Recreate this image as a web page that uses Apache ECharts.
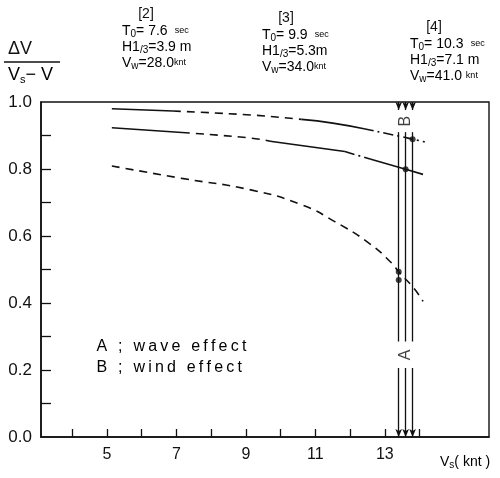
<!DOCTYPE html>
<html><head><meta charset="utf-8">
<script src="https://cdn.jsdelivr.net/npm/echarts@6/dist/echarts.min.js"></script>
<style>html,body{margin:0;padding:0;background:#fff}#c{width:500px;height:478px}</style>
</head><body><div id="c"></div>
<script>
// ---- axis ticks / labels ----
const xTickValues = [4, 5, 6, 7, 8, 9, 10, 11, 12, 13, 14];
const xLabelValues = [5, 7, 9, 11, 13];
const yTickValues = [0.1, 0.2, 0.3, 0.4, 0.5, 0.6, 0.7, 0.8, 0.9];
const yLabelValues = [0.0, 0.2, 0.4, 0.6, 0.8, 1.0];

// ---- curve [4] (segments by line style) ----
const c4Solid1 = [[5.14, 0.980], [6.9, 0.973]];
const c4Dash1 = [[6.9, 0.973], [9.17, 0.961], [10.6, 0.948]];
const c4Solid2 = [[10.6, 0.948], [11.5, 0.937], [12.4, 0.920]];
const c4DashDot = [[12.4, 0.920], [13.5, 0.896], [13.8, 0.889], [14.15, 0.881]];

// ---- curve [3] ----
const c3Solid1 = [[5.14, 0.923], [7.16, 0.909]];
const c3Dash1 = [[7.16, 0.909], [9.17, 0.892], [9.75, 0.882]];
const c3Solid2 = [[9.75, 0.882], [11.85, 0.852]];
const c3DashDot = [[11.85, 0.852], [12.6, 0.829]];
const c3Solid3 = [[12.6, 0.829], [13.6, 0.799], [14.1, 0.784]];

// ---- curve [2] ----
const c2Dash = [[5.14, 0.809], [7.16, 0.772], [9.17, 0.737], [10.61, 0.693], [11.56, 0.643], [12.54, 0.579], [13.2, 0.519], [13.4, 0.493], [13.83, 0.445], [14.1, 0.405]];

// ---- marked points on the Vs lines ----
const markPts = [[13.4, 0.493], [13.4, 0.469], [13.6, 0.799], [13.8, 0.889]];

// ---- Vs lines of each condition ----
const vsLines = [13.4, 13.6, 13.8];
const vTop = 1.0, vTopArrow = 0.976, vMidTop = 0.91, vMidBottom = 0.285, vLowTop = 0.206, vBottom = 0.0;

const curveNames = ['[4]', '[3]', '[2]'];
const effectTexts = ['A ; wave effect', 'B ; wind effect'];

const FONT = 'Liberation Sans, Arial, sans-serif';
const INK = '#111';

function seg(data, type, label) {
  return {
    type: 'line', data: data.map((p, i) => (i === 0 && label) ? {
      value: p, label: { show: true, position: 'left', distance: 9, formatter: label, color: INK, fontSize: 14, fontFamily: FONT }
    } : p),
    showSymbol: false, symbol: 'none', smooth: true, silent: true,
    lineStyle: { color: INK, width: 1.6, type: type }, z: 3
  };
}
function vLineSeries(y1, y2, sym) {
  return {
    type: 'line', data: [], silent: true,
    markLine: {
      silent: true, animation: false,
      symbol: sym, symbolSize: [5, 8],
      label: { show: false },
      lineStyle: { color: INK, width: 1.3, type: 'solid' },
      emphasis: { disabled: true },
      data: vsLines.map(v => [{ coord: [v, y1] }, { coord: [v, y2] }])
    }
  };
}
// wide-tracked text: each character as its own rich token with side padding
function tracked(str) {
  return str.split('').map(ch => '{c|' + (ch === ' ' ? '\u00a0' : ch) + '}').join('');
}

const DASH = [8, 6];
const DASHDOT = [10, 4, 2, 4];

const hdrRich = {
  n: { fontSize: 14, fontFamily: FONT, color: INK },
  s: { fontSize: 10, fontFamily: FONT, color: INK, verticalAlign: 'bottom', padding: [6, 0, 0, 0] },
  u: { fontSize: 9, fontFamily: FONT, color: INK }
};
function hdr(x, y, id, t, h, w) {
  return [
    { type: 'text', x: x + 24, y: y, style: { text: id, font: '14px ' + FONT, fill: INK, align: 'center' } },
    { type: 'text', x: x, y: y + 16, style: { text: '{n|T}{s|0}{n|= ' + t + ' } {u|sec}', rich: hdrRich } },
    { type: 'text', x: x, y: y + 32, style: { text: '{n|H1}{s|/3}{n|=' + h + '}', rich: hdrRich } },
    { type: 'text', x: x, y: y + 48, style: { text: '{n|V}{s|w}{n|=' + w + '}{u|knt}', rich: hdrRich } }
  ];
}
const trackRich = { c: { fontSize: 16, fontFamily: FONT, color: INK, padding: [0, 1.6, 0, 1.6] } };

const chart = echarts.init(document.getElementById('c'), null, { renderer: 'canvas' });
chart.setOption({
  animation: false,
  backgroundColor: '#fff',
  grid: { left: 41, right: 11, top: 102, bottom: 41, show: true, borderColor: INK, borderWidth: 1.4, backgroundColor: 'transparent' },
  xAxis: {
    type: 'value', min: 3.1, max: 16, splitLine: { show: false },
    axisLine: { lineStyle: { color: INK, width: 1.6 } },
    axisTick: { inside: true, length: 8, customValues: xTickValues, lineStyle: { color: INK, width: 1.3 } },
    axisLabel: { customValues: xLabelValues, color: INK, fontSize: 16, fontFamily: FONT, margin: 10 }
  },
  yAxis: {
    type: 'value', min: 0, max: 1.0, splitLine: { show: false },
    axisLine: { lineStyle: { color: INK, width: 1.6 } },
    axisTick: { inside: true, length: 10, customValues: yTickValues, lineStyle: { color: INK, width: 1.3 } },
    axisLabel: { customValues: yLabelValues, color: INK, fontSize: 17, fontFamily: FONT, margin: 9, formatter: v => v.toFixed(1) }
  },
  series: [
    seg(c4Solid1, 'solid', curveNames[0]), seg(c4Dash1, DASH), seg(c4Solid2, 'solid'), seg(c4DashDot, DASHDOT),
    seg(c3Solid1, 'solid', curveNames[1]), seg(c3Dash1, DASH), seg(c3Solid2, 'solid'), seg(c3DashDot, DASHDOT), seg(c3Solid3, 'solid'),
    seg(c2Dash, DASH, curveNames[2]),
    { type: 'scatter', data: markPts, symbol: 'circle', symbolSize: 6, itemStyle: { color: INK }, silent: true, z: 5 },
    vLineSeries(vTop, vTopArrow, ['none', 'arrow']),
    vLineSeries(vMidTop, vMidBottom, ['none', 'none']),
    vLineSeries(vLowTop, vBottom, ['none', 'arrow']),
    { type: 'scatter', symbolSize: 0, silent: true,
      data: [{ value: [vsLines[1], 0.943], name: 'B' }, { value: [vsLines[1], 0.245], name: 'A' }],
      label: { show: true, position: 'inside', formatter: p => p.name, rotate: 90, color: INK, fontSize: 16, fontFamily: FONT } }
  ],
  graphic: [
    // y-axis title ΔV / (Vs − V)
    { type: 'text', x: 8, y: 40, style: { text: 'ΔV', font: '18px ' + FONT, fill: INK } },
    { type: 'line', shape: { x1: 4, y1: 62, x2: 60, y2: 62 }, style: { stroke: INK, lineWidth: 1.4 } },
    { type: 'text', x: 8, y: 66, style: { text: '{n|V}{s|s}{n|− V}', rich: { n: { fontSize: 18, fontFamily: FONT, color: INK }, s: { fontSize: 11, fontFamily: FONT, color: INK, verticalAlign: 'bottom', padding: [8, 0, 0, 0] } } } },
    // x-axis title
    { type: 'text', x: 440, y: 455, style: { text: '{n|V}{s|s}{n|( knt )}', rich: { n: { fontSize: 14, fontFamily: FONT, color: INK }, s: { fontSize: 10, fontFamily: FONT, color: INK, verticalAlign: 'bottom', padding: [5, 0, 0, 0] } } } },
    // condition headers
    ...hdr(122, 7, '[2]', '7.6', '3.9 m', '28.0'),
    ...hdr(262, 11, '[3]', '9.9', '5.3m', '34.0'),
    ...hdr(410, 20, '[4]', '10.3', '7.1 m', '41.0 '),
    // effect legend
    { type: 'text', x: 95, y: 339, style: { text: tracked(effectTexts[0]), rich: trackRich } },
    { type: 'text', x: 95, y: 360, style: { text: tracked(effectTexts[1]), rich: trackRich } }
  ]
});
</script></body></html>
